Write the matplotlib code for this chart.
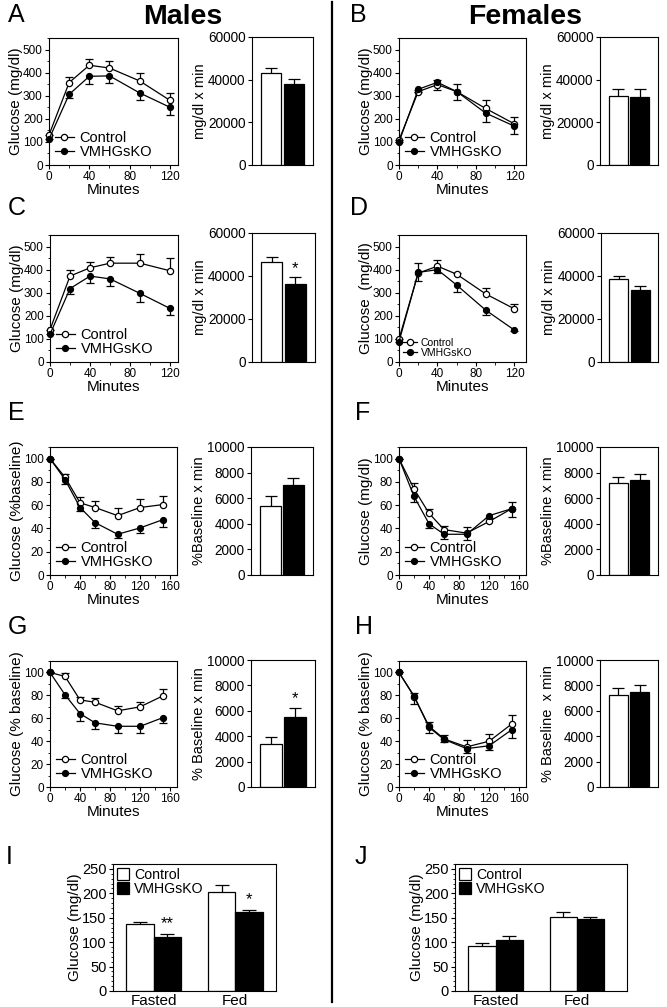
import numpy as np
import matplotlib
matplotlib.use("Agg")
import matplotlib.pyplot as plt
from matplotlib.lines import Line2D
from matplotlib.ticker import MultipleLocator

plt.rcParams['font.family'] = ['Liberation Sans', 'DejaVu Sans']

W, H = 667, 1007

# ---------------- data ----------------
t_gtt = [0, 20, 40, 60, 90, 120]
t_itt = [0, 20, 40, 60, 90, 120, 150]

A_ctrl = [130, 357, 432, 420, 364, 280]
A_ctrl_err = [0, 25, 26, 29, 33, 30]
A_ko = [112, 306, 384, 386, 312, 250]
A_ko_err = [0, 14, 32, 33, 30, 33]
A_auc = [43000, 38000]
A_auc_err = [2700, 2500]

B_ctrl = [108, 318, 348, 318, 245, 178]
B_ctrl_err = [0, 8, 22, 34, 37, 30]
B_ko = [100, 328, 358, 318, 225, 168]
B_ko_err = [0, 10, 33, 36, 40, 35]
B_auc = [32500, 32000]
B_auc_err = [3000, 3500]

C_ctrl = [140, 372, 408, 428, 428, 395]
C_ctrl_err = [0, 25, 25, 28, 38, 55]
C_ko = [120, 318, 372, 360, 297, 232]
C_ko_err = [0, 22, 28, 30, 35, 30]
C_auc = [46500, 36500]
C_auc_err = [2500, 3000]

D_ctrl = [100, 385, 415, 380, 295, 230]
D_ctrl_err = [0, 43, 25, 5, 25, 22]
D_ko = [88, 388, 400, 333, 225, 138]
D_ko_err = [0, 38, 15, 30, 20, 5]
D_auc = [38500, 33500]
D_auc_err = [1500, 2000]

E_ctrl = [100, 84, 62, 58, 51, 58, 60.5]
E_ctrl_err = [0, 3, 5, 6, 7, 7, 7]
E_ko = [100, 82, 58, 45, 35, 40.5, 47.5]
E_ko_err = [0, 4, 3, 5, 3, 4, 6]
E_auc = [5400, 7050]
E_auc_err = [800, 500]

F_ctrl = [100, 74, 53, 39, 36, 46, 57]
F_ctrl_err = [0, 5, 4, 3, 5, 3, 6]
F_ko = [100, 67.5, 44, 35, 35, 51, 57]
F_ko_err = [0, 5, 4, 4, 5, 2, 7]
F_auc = [7150, 7450]
F_auc_err = [500, 450]

G_ctrl = [100, 96.5, 76, 74, 66.5, 70, 79.5]
G_ctrl_err = [0, 3, 3, 4, 4, 4, 6]
G_ko = [100, 80.5, 64, 56, 53, 53, 60.5]
G_ko_err = [0, 3, 6, 5, 6, 6, 5]
G_auc = [3400, 5550]
G_auc_err = [500, 700]

H_ctrl = [100, 79, 53, 42, 35, 40, 55]
H_ctrl_err = [0, 3, 4, 3, 6, 6, 8]
H_ko = [100, 79.5, 52, 41.5, 33.5, 36, 50]
H_ko_err = [0, 7, 5, 2, 4, 4, 7]
H_auc = [7250, 7450]
H_auc_err = [550, 550]

conditions = ["Fasted", "Fed"]
I_ctrl = [137, 202]
I_ctrl_err = [5, 15]
I_ko = [110, 162]
I_ko_err = [7, 4]
J_ctrl = [92, 151]
J_ctrl_err = [6, 11]
J_ko = [105, 147]
J_ko_err = [8, 4]

groups = ["Control", "VMHGsKO"]

TICK = 8.5      # line plot ticks
BTICK = 9.8     # bar plot ticks
LAB = 11
BLAB = 10.5


def px(l, t, r, b):
    return [l / W, 1 - b / H, (r - l) / W, (b - t) / H]


def style(ax, size):
    for s in ax.spines.values():
        s.set_linewidth(0.8)
    ax.tick_params(direction='out', length=3, width=0.8, labelsize=size, pad=1.5,
                   top=False, right=False)
    ax.tick_params(which='minor', direction='out', length=1.8, width=0.6)


def one_sided(ax, x, y, err, up):
    err = np.asarray(err, float)
    low = np.zeros_like(err) if up else err
    high = err if up else np.zeros_like(err)
    _, caps, _ = ax.errorbar(x, y, yerr=[low, high], fmt='none', ecolor='black',
                             elinewidth=0.9, capsize=3, capthick=0.9, zorder=2,
                             clip_on=False)
    caps[0 if up else 1].set_visible(False)
    for c in caps:
        c.set_clip_on(False)


def line_panel(box, t, ctrl, ctrl_err, ko, ko_err, xlim, ylim, ymaj, ymin, xmin,
               ylabel, leg_size=10.5):
    ax = fig.add_axes(px(*box))
    style(ax, TICK)
    one_sided(ax, t, ctrl, ctrl_err, True)
    one_sided(ax, t, ko, ko_err, False)
    ax.plot(t, ctrl, '-o', color='black', mfc='white', mec='black', ms=4.5, lw=0.9,
            mew=0.9, zorder=3, clip_on=False, label=groups[0])
    ax.plot(t, ko, '-o', color='black', mfc='black', mec='black', ms=4.2, lw=0.9,
            zorder=4, clip_on=False, label=groups[1])
    ax.set_xlim(*xlim)
    ax.set_ylim(*ylim)
    ax.xaxis.set_major_locator(MultipleLocator(40))
    ax.xaxis.set_minor_locator(MultipleLocator(xmin))
    ax.yaxis.set_major_locator(MultipleLocator(ymaj))
    ax.yaxis.set_minor_locator(MultipleLocator(ymin))
    ax.set_xlabel("Minutes", fontsize=LAB, labelpad=0)
    ax.set_ylabel(ylabel, fontsize=LAB, labelpad=0)
    ax.legend(loc='lower left', frameon=False, fontsize=leg_size, handlelength=1.3,
              handletextpad=0.4, labelspacing=0.0, borderpad=0.1, borderaxespad=0.3)
    return ax


def auc_panel(box, vals, errs, ylim, ymaj, ylabel, star=None):
    ax = fig.add_axes(px(*box))
    style(ax, BTICK)
    x = np.arange(len(vals))
    ax.bar(x, vals, width=0.9, color=['white', 'black'], edgecolor='black',
           linewidth=0.9, zorder=2)
    _, caps, _ = ax.errorbar(x, vals, yerr=[np.zeros(len(errs)), errs], fmt='none',
                             ecolor='black', elinewidth=0.9, capsize=4, capthick=0.9,
                             zorder=1)
    caps[0].set_visible(False)
    ax.set_xlim(-0.85, 1.85)
    ax.set_ylim(*ylim)
    ax.set_xticks([])
    ax.yaxis.set_major_locator(MultipleLocator(ymaj))
    ax.set_ylabel(ylabel, fontsize=BLAB, labelpad=1)
    if star:
        i = 1
        ax.text(x[i], vals[i] + errs[i] + ylim[1] * 0.01, star, ha='center',
                va='bottom', fontsize=12)
    return ax


def group_panel(box, ctrl, ctrl_err, ko, ko_err, xlim, stars=None):
    ax = fig.add_axes(px(*box))
    style(ax, 10.5)
    x = np.arange(len(conditions))
    w = 0.335
    ax.bar(x - w / 2, ctrl, width=w, color='white', edgecolor='black', linewidth=0.9,
           zorder=2, label=groups[0])
    ax.bar(x + w / 2, ko, width=w, color='black', edgecolor='black', linewidth=0.9,
           zorder=2, label=groups[1])
    for xs, v, e in [(x - w / 2, ctrl, ctrl_err), (x + w / 2, ko, ko_err)]:
        _, caps, _ = ax.errorbar(xs, v, yerr=[np.zeros(len(e)), e], fmt='none',
                                 ecolor='black', elinewidth=0.9, capsize=5,
                                 capthick=0.9, zorder=1)
        caps[0].set_visible(False)
    ax.set_xlim(*xlim)
    ax.set_ylim(0, 260)
    ax.set_xticks(x)
    ax.set_xticklabels(conditions, fontsize=11)
    ax.tick_params(axis='x', length=0, pad=2)
    ax.yaxis.set_major_locator(MultipleLocator(50))
    ax.yaxis.set_minor_locator(MultipleLocator(10))
    ax.set_ylabel("Glucose (mg/dl)", fontsize=LAB, labelpad=0)
    ax.legend(loc='upper left', frameon=False, fontsize=10.2, handlelength=0.9,
              handleheight=0.9, handletextpad=0.35, labelspacing=0.0, borderpad=0.1,
              borderaxespad=0.15)
    if stars:
        for xi, v, e, s in zip(x + w / 2, ko, ko_err, stars):
            ax.text(xi, v + e + 5, s, ha='center', va='bottom', fontsize=12)
    return ax


fig = plt.figure(figsize=(W / 100, H / 100), dpi=100)

# row 1
line_panel((49, 38, 178, 165), t_gtt, A_ctrl, A_ctrl_err, A_ko, A_ko_err,
           (0, 128), (0, 550), 100, 50, 20, "Glucose (mg/dl)")
auc_panel((252, 37, 313, 165), A_auc, A_auc_err, (0, 60000), 20000, "mg/dl x min")
line_panel((399, 38, 526, 165), t_gtt, B_ctrl, B_ctrl_err, B_ko, B_ko_err,
           (0, 132), (0, 550), 100, 50, 20, "Glucose (mg/dl)")
auc_panel((600, 37, 658, 165), B_auc, B_auc_err, (0, 60000), 20000, "mg/dl x min")

# row 2
line_panel((50, 235, 178, 362), t_gtt, C_ctrl, C_ctrl_err, C_ko, C_ko_err,
           (0, 128), (0, 550), 100, 50, 20, "Glucose (mg/dl)")
auc_panel((252, 233, 315, 362), C_auc, C_auc_err, (0, 60000), 20000, "mg/dl x min",
          star="*")
line_panel((399, 235, 526, 362), t_gtt, D_ctrl, D_ctrl_err, D_ko, D_ko_err,
           (0, 132), (0, 550), 100, 50, 20, "Glucose  (mg/dl)", leg_size=7.5)
auc_panel((601, 233, 658, 362), D_auc, D_auc_err, (0, 60000), 20000, "mg/dl x min")

# row 3
line_panel((50, 447, 177, 575), t_itt, E_ctrl, E_ctrl_err, E_ko, E_ko_err,
           (0, 169), (0, 110), 20, 10, 20, "Glucose (%baseline)")
auc_panel((251, 447, 313, 575), E_auc, E_auc_err, (0, 10000), 2000, "%Baseline x min")
line_panel((399, 447, 526, 575), t_itt, F_ctrl, F_ctrl_err, F_ko, F_ko_err,
           (0, 169), (0, 110), 20, 10, 20, "Glucose (mg/dl)")
auc_panel((600, 447, 658, 575), F_auc, F_auc_err, (0, 10000), 2000, "%Baseline x min")

# row 4
line_panel((50, 661, 177, 787), t_itt, G_ctrl, G_ctrl_err, G_ko, G_ko_err,
           (0, 169), (0, 110), 20, 10, 20, "Glucose (% baseline)")
auc_panel((251, 660, 315, 787), G_auc, G_auc_err, (0, 10000), 2000, "% Baseline x min",
          star="*")
line_panel((399, 661, 526, 787), t_itt, H_ctrl, H_ctrl_err, H_ko, H_ko_err,
           (0, 169), (0, 110), 20, 10, 20, "Glucose (% baseline)")
auc_panel((600, 660, 658, 787), H_auc, H_auc_err, (0, 10000), 2000, "% Baseline  x min")

# row 5
group_panel((113, 864, 276, 991), I_ctrl, I_ctrl_err, I_ko, I_ko_err, (-0.5, 1.5),
            stars=["**", "*"])
group_panel((455, 864, 627, 991), J_ctrl, J_ctrl_err, J_ko, J_ko_err, (-0.5, 1.62))

# titles, panel letters, divider
fig.text(183 / W, 1 - 17 / H, "Males", ha='center', va='center', fontsize=20.5,
         fontweight='bold')
fig.text(525 / W, 1 - 17 / H, "Females", ha='center', va='center', fontsize=20.5,
         fontweight='bold')
letters = [("A", 8, 15), ("B", 350, 15), ("C", 8, 208), ("D", 350, 208),
           ("E", 8, 413), ("F", 355, 413), ("G", 8, 627), ("H", 355, 627),
           ("I", 6, 857), ("J", 355, 857)]
for s, lx, ly in letters:
    fig.text(lx / W, 1 - ly / H, s, ha='left', va='center', fontsize=18)

fig.add_artist(Line2D([331.5 / W, 331.5 / W], [1 - 2 / H, 1 - 1002 / H],
                      color='black', lw=1.6))

fig.savefig("out.png", dpi=100)
